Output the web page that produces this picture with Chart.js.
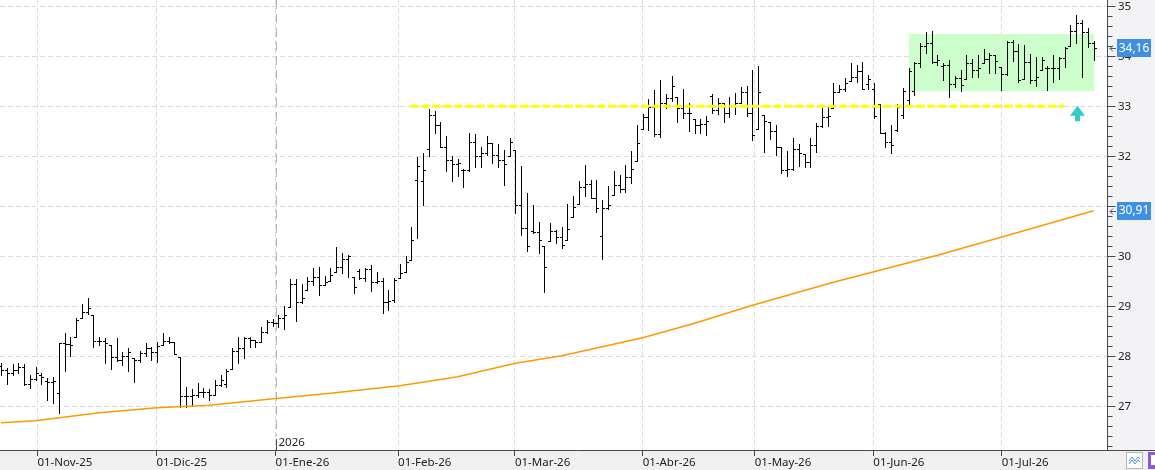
<!DOCTYPE html>
<html>
<head>
<meta charset="utf-8">
<script src="https://cdn.jsdelivr.net/npm/chart.js@4.4.1/dist/chart.umd.min.js"></script>
<style>
  html, body { margin: 0; padding: 0; background: #fff; overflow: hidden; }
  #wrap { width: 1155px; height: 470px; }
</style>
</head>
<body>
<div id="wrap"><canvas id="grafik"></canvas></div>
<script>
// daily bars, oldest first (one per trading day)
const openP = [
  27.80, 27.73, 27.67, 27.73, 27.78, 27.45, 27.54, 27.62, 27.50, 27.49,
  27.26, 28.26, 28.25, 28.39, 28.76, 28.89, 28.83, 28.31, 28.31, 28.23,
  27.99, 27.93, 28.01, 27.96, 27.93, 28.07, 28.16, 28.09, 28.23, 28.31,
  28.29, 27.99, 27.21, 27.21, 27.23, 27.29, 27.29, 27.23, 27.43, 27.45,
  27.74, 28.10, 28.16, 28.36, 28.33, 28.29, 28.49, 28.69, 28.67, 28.76,
  28.98, 29.45, 29.09, 29.33, 29.51, 29.59, 29.43, 29.51, 29.69, 29.78,
  29.94, 29.59, 29.70, 29.56, 29.74, 29.49, 29.51, 29.09, 29.13, 29.56,
  29.69, 29.93, 31.53, 31.50, 32.14, 32.83, 32.63, 32.18, 31.93, 31.85,
  31.73, 31.73, 32.29, 32.01, 32.06, 32.26, 32.03, 31.93, 32.01, 32.13,
  31.03, 30.56, 30.50, 30.49, 30.21, 30.31, 30.51, 30.39, 30.33, 30.78,
  31.05, 31.39, 31.45, 31.16, 30.41, 30.96, 31.23, 31.43, 31.34, 31.58,
  31.91, 32.54, 32.79, 32.99, 32.45, 33.06, 33.16, 33.18, 32.96, 32.86,
  32.74, 32.63, 32.65, 33.20, 32.93, 33.06, 32.86, 33.01, 33.07, 33.29,
  32.86, 32.54, 32.83, 32.69, 32.51, 32.18, 31.73, 31.74, 32.14, 32.05,
  31.89, 32.23, 32.60, 32.78, 32.96, 33.29, 33.34, 33.51, 33.58, 33.71,
  33.45, 33.34, 33.05, 32.46, 32.29, 32.53, 32.83, 33.13, 33.30, 33.87,
  34.20, 34.26, 33.89, 33.80, 33.83, 33.45, 33.56, 33.54, 33.87, 33.73,
  33.86, 33.94, 34.03, 33.79, 33.65, 34.29, 34.11, 33.54, 33.89, 33.53,
  33.73, 33.76, 33.76, 33.76, 33.96, 34.21, 34.51, 34.66, 34.49, 34.26
];
const highP = [
  27.86, 27.76, 27.85, 27.86, 27.84, 27.63, 27.78, 27.66, 27.56, 27.59,
  28.26, 28.47, 28.38, 28.76, 29.05, 29.16, 28.83, 28.39, 28.36, 28.23,
  28.36, 28.09, 28.16, 27.96, 28.11, 28.26, 28.18, 28.29, 28.47, 28.39,
  28.29, 27.99, 27.38, 27.34, 27.47, 27.36, 27.34, 27.53, 27.63, 27.74,
  28.16, 28.39, 28.38, 28.38, 28.33, 28.59, 28.73, 28.74, 28.83, 29.01,
  29.54, 29.54, 29.45, 29.59, 29.76, 29.78, 29.61, 29.76, 30.19, 30.07,
  30.03, 29.59, 29.74, 29.76, 29.83, 29.69, 29.56, 29.33, 29.56, 29.84,
  30.01, 30.59, 31.99, 32.06, 32.94, 32.91, 32.68, 32.41, 32.01, 31.95,
  31.75, 32.47, 32.45, 32.18, 32.41, 32.26, 32.25, 32.13, 32.36, 32.13,
  31.81, 31.26, 31.03, 30.69, 30.21, 30.67, 30.53, 30.59, 31.05, 31.21,
  31.51, 31.83, 31.53, 31.53, 31.13, 31.41, 31.71, 31.63, 31.83, 32.11,
  32.63, 32.85, 33.14, 33.33, 33.53, 33.25, 33.61, 33.18, 33.34, 33.06,
  32.74, 32.74, 32.81, 33.25, 33.16, 33.07, 33.19, 33.26, 33.38, 33.41,
  33.73, 33.81, 32.83, 32.69, 32.63, 32.18, 32.11, 32.36, 32.25, 32.05,
  32.36, 32.67, 32.96, 32.99, 33.46, 33.43, 33.56, 33.87, 33.83, 33.89,
  33.63, 33.46, 33.05, 32.49, 32.63, 33.05, 33.36, 33.76, 33.89, 34.27,
  34.49, 34.51, 34.03, 33.87, 33.93, 33.61, 33.73, 34.03, 33.94, 34.03,
  34.14, 34.06, 34.03, 33.79, 34.31, 34.33, 34.25, 34.23, 34.05, 33.98,
  33.98, 33.81, 34.03, 33.99, 34.19, 34.63, 34.83, 34.73, 34.56, 34.31
];
const lowP = [
  27.63, 27.45, 27.63, 27.67, 27.43, 27.36, 27.53, 27.44, 27.13, 27.07,
  26.87, 27.71, 28.01, 28.39, 28.76, 28.84, 28.19, 28.23, 27.86, 27.74,
  27.91, 27.83, 27.71, 27.49, 27.89, 28.01, 27.93, 27.89, 28.23, 28.26,
  28.05, 26.99, 26.99, 27.01, 27.18, 27.19, 27.13, 27.23, 27.41, 27.39,
  27.74, 27.86, 27.96, 28.19, 28.19, 28.29, 28.46, 28.61, 28.59, 28.54,
  28.98, 28.71, 29.06, 29.33, 29.43, 29.23, 29.43, 29.51, 29.69, 29.67,
  29.59, 29.27, 29.54, 29.51, 29.31, 29.47, 28.87, 28.93, 29.09, 29.56,
  29.69, 29.93, 30.36, 31.03, 32.01, 32.47, 32.18, 31.71, 31.51, 31.61,
  31.39, 31.71, 31.79, 31.79, 32.02, 31.86, 31.78, 31.43, 32.01, 30.87,
  30.43, 30.11, 30.46, 30.07, 29.29, 30.31, 30.26, 30.17, 30.33, 30.78,
  31.05, 31.21, 31.16, 30.89, 29.94, 30.95, 31.23, 31.29, 31.29, 31.47,
  31.91, 32.54, 32.53, 32.41, 32.39, 32.96, 33.11, 32.69, 32.76, 32.51,
  32.47, 32.47, 32.43, 32.87, 32.85, 32.69, 32.78, 32.85, 33.06, 32.81,
  32.33, 32.54, 32.09, 32.34, 32.03, 31.66, 31.61, 31.73, 31.81, 31.78,
  31.78, 32.09, 32.59, 32.61, 32.96, 33.29, 33.31, 33.51, 33.49, 33.34,
  33.34, 32.76, 32.46, 32.19, 32.07, 32.51, 32.76, 33.05, 33.23, 33.79,
  34.07, 33.86, 33.83, 33.53, 33.18, 33.38, 33.31, 33.54, 33.58, 33.58,
  33.86, 33.67, 33.67, 33.33, 33.63, 33.91, 33.49, 33.54, 33.47, 33.41,
  33.73, 33.33, 33.49, 33.54, 33.79, 34.21, 34.27, 33.58, 34.18, 33.93
];
const closeP = [
  27.73, 27.67, 27.73, 27.78, 27.45, 27.54, 27.66, 27.58, 27.49, 27.50,
  28.26, 28.25, 28.23, 28.72, 28.89, 28.96, 28.31, 28.31, 28.26, 27.99,
  27.93, 28.01, 28.09, 27.93, 28.07, 28.16, 28.09, 28.20, 28.31, 28.29,
  28.05, 27.21, 27.21, 27.23, 27.29, 27.29, 27.23, 27.43, 27.53, 27.70,
  28.10, 28.16, 28.36, 28.33, 28.29, 28.49, 28.69, 28.67, 28.76, 28.83,
  29.45, 29.09, 29.16, 29.51, 29.59, 29.43, 29.49, 29.63, 29.78, 29.94,
  30.01, 29.38, 29.56, 29.74, 29.49, 29.51, 29.09, 29.11, 29.52, 29.67,
  29.89, 30.33, 31.81, 31.73, 32.83, 32.63, 32.18, 31.93, 31.85, 31.86,
  31.73, 32.29, 32.01, 32.06, 32.26, 32.03, 31.93, 31.85, 32.29, 31.03,
  30.56, 30.21, 30.49, 30.33, 29.79, 30.51, 30.39, 30.23, 30.54, 30.98,
  31.39, 31.45, 31.16, 30.96, 30.96, 31.03, 31.43, 31.34, 31.58, 31.74,
  32.27, 32.79, 32.99, 32.45, 33.06, 33.16, 33.41, 32.96, 32.86, 32.86,
  32.63, 32.65, 32.71, 32.93, 33.06, 32.86, 33.01, 33.07, 33.29, 32.86,
  32.43, 33.29, 32.71, 32.51, 32.19, 31.73, 31.74, 32.14, 32.07, 31.89,
  32.23, 32.60, 32.78, 32.81, 33.29, 33.34, 33.47, 33.58, 33.71, 33.34,
  33.54, 32.80, 32.46, 32.29, 32.23, 32.98, 33.30, 33.70, 33.87, 34.20,
  34.26, 33.89, 33.93, 33.83, 33.45, 33.56, 33.43, 33.87, 33.73, 33.76,
  33.94, 34.03, 33.91, 33.65, 34.29, 34.11, 33.53, 33.89, 33.53, 33.58,
  33.93, 33.76, 33.76, 33.96, 34.16, 34.51, 34.66, 34.49, 34.26, 34.16
];

// moving average, read at a few bars
const maIdx = [0, 6, 17, 27, 36, 48, 57, 69, 79, 89, 97, 111, 120, 130, 144, 151, 162, 173, 189];
const maVal = [26.67, 26.71, 26.87, 26.97, 27.02, 27.16, 27.26, 27.41, 27.59, 27.86,
               28.01, 28.37, 28.66, 29.02, 29.48, 29.69, 30.02, 30.38, 30.91];

// month ticks (bar position) and their labels
const monthTicks = [6.3, 26.9, 47.5, 68.7, 88.9, 111.0, 130.4, 150.9, 173.1];
const monthLabels = ['01-Nov-25', '01-Dic-25', '01-Ene-26', '01-Feb-26', '01-Mar-26',
                     '01-Abr-26', '01-May-26', '01-Jun-26', '01-Jul-26'];
const yTicks = [27, 28, 29, 30, 31, 32, 33, 34, 35];

// drawings
const levelPrice = 33.0, levelFrom = 70.8, levelTo = 183.9;
const boxFrom = 157.0, boxTo = 189.1, boxTop = 34.45, boxBottom = 33.31;
const arrowIdx = 186.1, arrowTip = 33.01, arrowBase = 32.70;
const yearIdx = 47.5, yearLabel = '2026';

Chart.defaults.font.family = "'Noto Sans', sans-serif";

function fmt(v) { return v.toFixed(2).replace('.', ','); }

const decor = {
    id: 'decor',
    beforeDraw(chart) {
        const {ctx, chartArea: a, width, height} = chart;
        ctx.save();
        ctx.fillStyle = '#ffffff';
        ctx.fillRect(0, 0, width, height);
        ctx.fillStyle = '#f3f3f6';
        ctx.fillRect(a.right, 0, width - a.right, a.bottom);
        ctx.fillStyle = '#f0f0f0';
        ctx.fillRect(0, a.bottom, width, height - a.bottom);
        ctx.restore();
    },
    beforeDatasetsDraw(chart) {
        const {ctx, chartArea: a} = chart;
        const x = chart.scales.x, y = chart.scales.y;
        ctx.save();

        // green range box
        const bx1 = Math.round(x.getPixelForValue(boxFrom));
        const bx2 = Math.round(x.getPixelForValue(boxTo));
        const by1 = Math.round(y.getPixelForValue(boxTop));
        const by2 = Math.round(y.getPixelForValue(boxBottom));
        ctx.fillStyle = '#ccffcc';
        ctx.fillRect(bx1, by1, bx2 - bx1, by2 - by1);

        // year separator
        const yx = Math.round(x.getPixelForValue(yearIdx)) + 0.5;
        ctx.strokeStyle = '#b4b4b4';
        ctx.lineWidth = 1;
        ctx.setLineDash([9, 5]);
        ctx.beginPath();
        ctx.moveTo(yx, a.top);
        ctx.lineTo(yx, a.bottom - 14);
        ctx.stroke();
        ctx.setLineDash([]);

        // OHLC bars
        ctx.strokeStyle = '#000';
        ctx.beginPath();
        for (let i = 0; i < closeP.length; i++) {
            const px = Math.round(x.getPixelForValue(i)) + 0.5;
            const yh = Math.round(y.getPixelForValue(highP[i]));
            const yl = Math.round(y.getPixelForValue(lowP[i]));
            const yo = Math.round(y.getPixelForValue(openP[i])) + 0.5;
            const yc = Math.round(y.getPixelForValue(closeP[i])) + 0.5;
            ctx.moveTo(px, yh);
            ctx.lineTo(px, yl + 1);
            ctx.moveTo(px - 2.5, yo);
            ctx.lineTo(px, yo);
            ctx.moveTo(px, yc);
            ctx.lineTo(px + 2.5, yc);
        }
        ctx.stroke();
        ctx.restore();
    },
    afterDatasetsDraw(chart) {
        const ctx = chart.ctx;
        const x = chart.scales.x, y = chart.scales.y;
        const ax = Math.round(x.getPixelForValue(arrowIdx)) + 0.5;
        const ty = y.getPixelForValue(arrowTip);
        const by = y.getPixelForValue(arrowBase);
        const hh = (by - ty) * 0.64;
        ctx.save();
        ctx.fillStyle = '#36c9c9';
        ctx.beginPath();
        ctx.moveTo(ax, ty);
        ctx.lineTo(ax + 7.5, ty + hh);
        ctx.lineTo(ax + 2.5, ty + hh);
        ctx.lineTo(ax + 2.5, by);
        ctx.lineTo(ax - 2.5, by);
        ctx.lineTo(ax - 2.5, ty + hh);
        ctx.lineTo(ax - 7.5, ty + hh);
        ctx.closePath();
        ctx.fill();
        ctx.restore();
    },
    afterDraw(chart) {
        const {ctx, chartArea: a, width} = chart;
        const x = chart.scales.x, y = chart.scales.y;
        ctx.save();

        // axis lines
        const rx = Math.round(a.right) - 0.5;
        const bl = Math.round(a.bottom) + 0.5;
        ctx.strokeStyle = '#4a4a4a';
        ctx.lineWidth = 1;
        ctx.beginPath();
        ctx.moveTo(rx, 0);
        ctx.lineTo(rx, bl);
        ctx.moveTo(0, bl);
        ctx.lineTo(width, bl);
        // price ticks, 0.2 apart
        for (let k = 131; k <= 175; k++) {
            const py = Math.round(y.getPixelForValue(k / 5)) + 0.5;
            ctx.moveTo(rx, py);
            ctx.lineTo(rx + (k % 5 === 0 ? 8 : 5), py);
        }
        ctx.stroke();

        // year mark
        const yx = Math.round(x.getPixelForValue(yearIdx)) + 0.5;
        ctx.beginPath();
        ctx.moveTo(yx, a.bottom - 11);
        ctx.lineTo(yx, a.bottom);
        ctx.stroke();
        ctx.fillStyle = '#222';
        ctx.font = "11.5px 'Noto Sans', sans-serif";
        ctx.textAlign = 'left';
        ctx.textBaseline = 'alphabetic';
        ctx.fillText(yearLabel, yx + 2, a.bottom - 4);

        // last value tags
        const tag = (v) => {
            const py = y.getPixelForValue(v);
            ctx.fillStyle = '#3f8fe3';
            ctx.fillRect(a.right + 9, Math.round(py) - 9, 34, 18);
            ctx.fillStyle = '#ffffff';
            ctx.font = "12px 'Noto Sans', sans-serif";
            ctx.textAlign = 'center';
            ctx.textBaseline = 'middle';
            ctx.fillText(fmt(v), a.right + 26, py);
            ctx.strokeStyle = '#555';
            ctx.beginPath();
            ctx.moveTo(a.right + 2, Math.round(py) + 0.5);
            ctx.lineTo(a.right + 8, Math.round(py) + 0.5);
            ctx.moveTo(a.right + 5, Math.round(py) - 2.5);
            ctx.lineTo(a.right + 2, Math.round(py) + 0.5);
            ctx.lineTo(a.right + 5, Math.round(py) + 3.5);
            ctx.stroke();
        };
        tag(closeP[closeP.length - 1]);
        tag(maVal[maVal.length - 1]);

        // small buttons in the corner
        ctx.fillStyle = '#ffffff';
        ctx.fillRect(1126, 452, 16, 16);
        ctx.strokeStyle = '#b8b8b8';
        ctx.strokeRect(1126.5, 452.5, 16, 16);
        ctx.strokeStyle = '#4a9be0';
        ctx.beginPath();
        ctx.moveTo(1129, 461); ctx.lineTo(1132, 457); ctx.lineTo(1135, 461); ctx.lineTo(1138, 457); ctx.lineTo(1140, 459);
        ctx.moveTo(1129, 464); ctx.lineTo(1132, 460); ctx.lineTo(1135, 464); ctx.lineTo(1138, 460); ctx.lineTo(1140, 462);
        ctx.stroke();
        ctx.fillStyle = '#8b5cd6';
        ctx.fillRect(1148, 452, 7, 17);
        ctx.fillStyle = '#ffffff';
        ctx.fillRect(1151, 455, 4, 10);
        ctx.restore();
    }
};

new Chart(document.getElementById('grafik'), {
    type: 'line',
    data: {
        datasets: [
            {
                label: 'Media',
                data: maIdx.map((v, k) => ({x: v, y: maVal[k]})),
                borderColor: '#ff9900',
                borderWidth: 1.6,
                pointRadius: 0,
                tension: 0
            },
            {
                label: 'Soporte',
                data: [{x: levelFrom, y: levelPrice}, {x: levelTo, y: levelPrice}],
                borderColor: '#ffff00',
                borderWidth: 3,
                borderDash: [8, 3],
                pointRadius: 0
            }
        ]
    },
    options: {
        responsive: true,
        maintainAspectRatio: false,
        animation: false,
        devicePixelRatio: 1,
        layout: { padding: 0 },
        plugins: { legend: { display: false }, tooltip: { enabled: false } },
        scales: {
            x: {
                type: 'linear',
                min: -0.17,
                max: 191.5,
                afterBuildTicks: s => { s.ticks = monthTicks.map(v => ({value: v})); },
                afterFit: s => { s.height = 20; s.paddingLeft = 0; s.paddingRight = 0; },
                grid: { color: '#dcdcdc', tickColor: '#4a4a4a', tickLength: 6, tickBorderDash: [] },
                border: { display: false, dash: [5, 3] },
                ticks: {
                    autoSkip: false, maxRotation: 0, minRotation: 0, align: 'start', padding: 0,
                    color: '#222', font: { size: 11.5 },
                    callback: (v, i) => monthLabels[i]
                }
            },
            y: {
                type: 'linear',
                position: 'right',
                min: 26.126,
                max: 35.126,
                afterBuildTicks: s => { s.ticks = yTicks.map(v => ({value: v})); },
                afterFit: s => { s.width = 47; s.paddingTop = 0; s.paddingBottom = 0; },
                grid: { color: '#dcdcdc', drawTicks: false },
                border: { display: false, dash: [5, 3] },
                ticks: { padding: 10, color: '#222', font: { size: 11.5 }, callback: v => String(v) }
            }
        }
    },
    plugins: [decor]
});
</script>
</body>
</html>
